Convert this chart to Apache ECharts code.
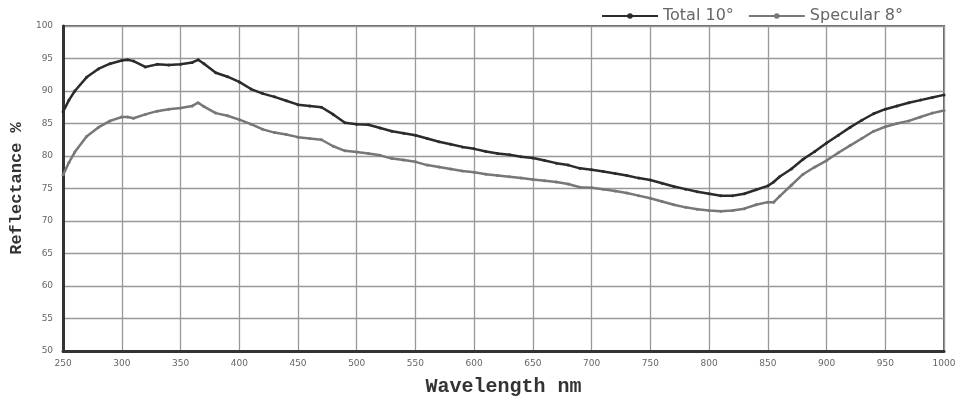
<!DOCTYPE html>
<html>
<head>
<meta charset="utf-8">
<script src="https://cdn.jsdelivr.net/npm/echarts@6/dist/echarts.min.js"></script>
<style>
  html, body { margin: 0; padding: 0; background: #fff; }
  #chartLineBox { width: 960px; height: 402px; }
</style>
</head>
<body>
<div id="chartLineBox"></div>
<script>
// wavelength (nm)
var wavelength = [250, 255, 260, 270, 280, 290, 300, 305, 310, 320, 330, 340, 350, 360, 365, 370,
  380, 390, 400, 410, 420, 430, 440, 450, 460, 470, 480, 490, 500, 510, 520, 530, 540, 550,
  560, 570, 580, 590, 600, 610, 620, 630, 640, 650, 660, 670, 680, 690, 700, 710, 720, 730,
  740, 750, 760, 770, 780, 790, 800, 810, 820, 830, 840, 850, 855, 860, 870, 880, 890, 900,
  910, 920, 930, 940, 950, 960, 970, 980, 990, 1000];

// reflectance %
var total10 = [86.8, 88.6, 90.0, 92.1, 93.4, 94.2, 94.7, 94.8, 94.6, 93.7, 94.1, 94.0, 94.1, 94.4, 94.8, 94.2,
  92.8, 92.2, 91.4, 90.3, 89.6, 89.1, 88.5, 87.9, 87.7, 87.5, 86.4, 85.1, 84.9, 84.8, 84.3, 83.8, 83.5, 83.2,
  82.7, 82.2, 81.8, 81.4, 81.1, 80.7, 80.4, 80.2, 79.9, 79.7, 79.3, 78.9, 78.6, 78.1, 77.9, 77.6, 77.3, 77.0,
  76.6, 76.3, 75.8, 75.3, 74.9, 74.5, 74.2, 73.9, 73.9, 74.2, 74.8, 75.4, 76.0, 76.8, 78.0, 79.5, 80.7, 82.0,
  83.2, 84.4, 85.5, 86.5, 87.2, 87.7, 88.2, 88.6, 89.0, 89.4];

var specular8 = [77.1, 79.0, 80.6, 83.0, 84.4, 85.4, 86.0, 86.0, 85.8, 86.4, 86.9, 87.2, 87.4, 87.7, 88.2, 87.6,
  86.6, 86.2, 85.6, 84.9, 84.1, 83.6, 83.3, 82.9, 82.7, 82.5, 81.5, 80.8, 80.6, 80.4, 80.1, 79.6, 79.4, 79.1,
  78.6, 78.3, 78.0, 77.7, 77.5, 77.2, 77.0, 76.8, 76.6, 76.4, 76.2, 76.0, 75.7, 75.2, 75.1, 74.9, 74.6, 74.3,
  73.9, 73.5, 73.0, 72.5, 72.1, 71.8, 71.6, 71.5, 71.6, 71.9, 72.5, 72.9, 72.9, 73.8, 75.5, 77.2, 78.3, 79.3,
  80.5, 81.6, 82.7, 83.8, 84.5, 85.0, 85.4, 86.0, 86.6, 87.0];

var seriesNames = ['Total 10°', 'Specular 8°'];

function pairs(xs, ys) {
  var out = [];
  for (var i = 0; i < xs.length; i++) out.push([xs[i], ys[i]]);
  return out;
}

var Chart = echarts.init(document.getElementById('chartLineBox'));

var option = {
  animation: false,
  backgroundColor: '#fff',
  legend: {
    top: 3,
    right: 52,
    itemWidth: 56,
    itemHeight: 7,
    itemGap: 14,
    textStyle: { fontFamily: 'DejaVu Sans', fontSize: 16, color: '#666' },
    data: seriesNames
  },
  grid: {
    left: 63, right: 16, top: 26, bottom: 45,
    show: true,
    borderColor: '#666',
    borderWidth: 2
  },
  xAxis: {
    type: 'value',
    min: 250, max: 1000, interval: 50,
    name: 'Wavelength nm',
    nameLocation: 'middle',
    nameGap: 26,
    nameTextStyle: { fontFamily: 'Liberation Mono', fontWeight: 'bold', fontSize: 20, color: '#333' },
    axisLine: { lineStyle: { color: '#333', width: 3 } },
    axisTick: { show: false },
    axisLabel: { fontFamily: 'DejaVu Sans', fontSize: 9, color: '#666', margin: 8,
      formatter: function (v) { return String(v); } },
    splitLine: { lineStyle: { color: '#999', width: 1.3 } }
  },
  yAxis: {
    type: 'value',
    min: 50, max: 100, interval: 5,
    name: 'Reflectance %',
    nameLocation: 'middle',
    nameRotate: 90,
    nameGap: 37,
    nameTextStyle: { fontFamily: 'Liberation Mono', fontWeight: 'bold', fontSize: 17, color: '#333' },
    axisLine: { lineStyle: { color: '#333', width: 3 } },
    axisTick: { show: false },
    axisLabel: { fontFamily: 'DejaVu Sans', fontSize: 9, color: '#666', margin: 10 },
    splitLine: { lineStyle: { color: '#999', width: 1.3 } }
  },
  series: [{
    name: seriesNames[0],
    type: 'line',
    symbol: 'circle',
    symbolSize: 3,
    itemStyle: { color: '#2b2b2b' },
    lineStyle: { color: '#2b2b2b', width: 2.5 },
    data: pairs(wavelength, total10)
  }, {
    name: seriesNames[1],
    type: 'line',
    symbol: 'circle',
    symbolSize: 3,
    itemStyle: { color: '#777' },
    lineStyle: { color: '#777', width: 2.5 },
    data: pairs(wavelength, specular8)
  }]
};

Chart.setOption(option);
</script>
</body>
</html>
